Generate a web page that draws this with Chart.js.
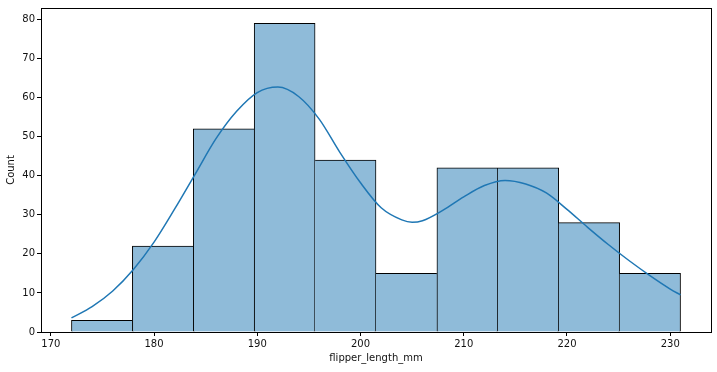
<!DOCTYPE html>
<html lang="en">
<head>
    <meta charset="utf-8">
    <title>flipper_length_mm histogram</title>
    <script src="https://cdn.jsdelivr.net/npm/chart.js"></script>
    <style>
        html, body { margin: 0; padding: 0; background: #fff; overflow: hidden; }
        #histChart { display: block; }
    </style>
</head>
<body>
    <canvas id="histChart" width="717" height="372"></canvas>

    <script>
        // histogram bins (centres) and counts
        var binCenters = [174.95, 180.85, 186.75, 192.65, 198.55, 204.45, 210.35, 216.25, 222.15, 228.05];
        var binCounts = [3, 22, 52, 79, 44, 15, 42, 42, 28, 15];

        // kde curve
        var kdeX = [172, 174, 176, 178, 180, 182, 184, 186, 188, 190, 192, 194, 196, 198, 200,
                    202, 204, 205, 206, 208, 210, 212, 214, 216, 218, 220, 222, 224, 226, 228, 230, 231];
        var kdeY = [3.6, 6.5, 10.5, 16, 23, 31.5, 40.5, 49.5, 56.5, 61.3, 62.7, 60.3, 54.5, 46, 38.2,
                    31.8, 28.7, 28.1, 28.5, 31.2, 34.6, 37.5, 38.8, 37.9, 35.6, 31.4, 26.8, 22.4, 18.3, 14.5, 11, 9.5];

        var xTitle = 'flipper_length_mm';
        var yTitle = 'Count';

        var barData = binCenters.map(function (x, i) { return { x: x, y: binCounts[i] }; });
        var kdeData = kdeX.map(function (x, i) { return { x: x, y: kdeY[i] }; });
        var lastBar = binCenters.length - 1;

        // shared edges: only the taller of two neighbours draws the line
        function barBorder(c) {
            var i = c.dataIndex;
            return {
                top: 1,
                bottom: 0,
                left: (i === 0 || binCounts[i - 1] < binCounts[i]) ? 1 : 0,
                right: (i === lastBar || binCounts[i + 1] <= binCounts[i]) ? 1 : 0
            };
        }

        // draw the full box around the plot, like matplotlib spines
        var boxPlugin = {
            id: 'box',
            afterDraw: function (chart) {
                var a = chart.chartArea, c = chart.ctx;
                c.save();
                c.strokeStyle = '#000';
                c.lineWidth = 1;
                c.strokeRect(Math.round(a.left) + 0.5, Math.round(a.top) + 0.5,
                             Math.round(a.right - a.left), Math.round(a.bottom - a.top));
                c.restore();
            }
        };

        Chart.defaults.font.family = 'DejaVu Sans';
        Chart.defaults.font.size = 10;
        Chart.defaults.color = '#111';

        var ctx = document.getElementById('histChart').getContext('2d');
        var chart = new Chart(ctx, {
            type: 'bar',
            data: {
                datasets: [{
                    type: 'line',
                    data: kdeData,
                    borderColor: '#1f77b4',
                    borderWidth: 1.5,
                    pointRadius: 0,
                    cubicInterpolationMode: 'monotone',
                    fill: false,
                    order: 0
                }, {
                    type: 'bar',
                    data: barData,
                    backgroundColor: '#8fbbd9',
                    borderColor: '#000',
                    borderSkipped: false,
                    borderWidth: barBorder,
                    barPercentage: 1,
                    categoryPercentage: 1,
                    order: 1
                }]
            },
            options: {
                responsive: false,
                animation: false,
                layout: { padding: { left: 0, top: 8, right: 6, bottom: 8 } },
                plugins: {
                    legend: { display: false },
                    tooltip: { enabled: false }
                },
                scales: {
                    x: {
                        type: 'linear',
                        offset: false,
                        min: 169.05,
                        max: 233.95,
                        grid: { display: true, offset: false, drawOnChartArea: false, drawTicks: true, tickLength: 4, color: '#000' },
                        border: { display: true, color: '#000' },
                        ticks: { stepSize: 10, includeBounds: false, padding: 2 },
                        title: { display: true, text: xTitle, padding: { top: 2, bottom: 0 } },
                        afterFit: function (s) { s.height = 32; }
                    },
                    y: {
                        min: 0,
                        max: 82.95,
                        grid: { display: true, drawOnChartArea: false, drawTicks: true, tickLength: 4, color: '#000' },
                        border: { display: true, color: '#000' },
                        ticks: { stepSize: 10, includeBounds: false, padding: 2 },
                        title: { display: true, text: yTitle, padding: { top: 5, bottom: 2 } },
                        afterFit: function (s) { s.width = 41; }
                    }
                }
            },
            plugins: [boxPlugin]
        });
    </script>
</body>
</html>
